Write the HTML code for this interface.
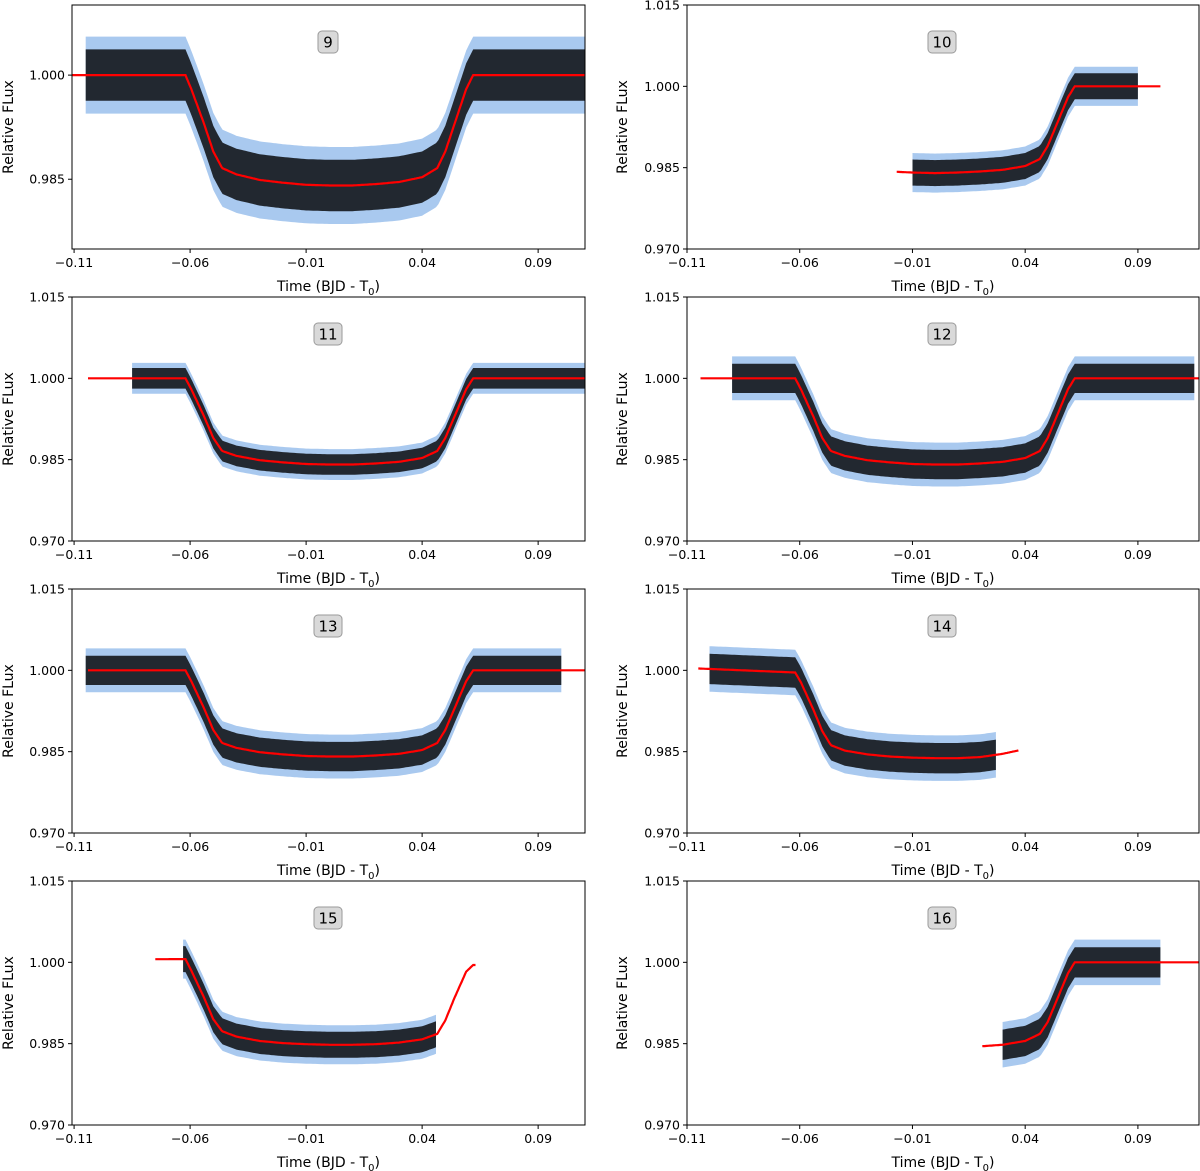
<!DOCTYPE html>
<html><head><meta charset="utf-8"><style>
body{margin:0;background:#fff}
svg{display:block}
text{font-family:"DejaVu Sans","Liberation Sans",sans-serif;fill:#000}
</style></head><body>
<svg id="fig" width="1200" height="1171" viewBox="0 0 1200 1171" xmlns="http://www.w3.org/2000/svg"></svg>
<script>
// ---- data ----
const panelLabels = ["9","10","11","12","13","14","15","16"];
const xTicks = [-0.11,-0.06,-0.01,0.04,0.09];
const xTickLabels = ["\u22120.11","\u22120.06","\u22120.01","0.04","0.09"];
const yTicks = [1.015,1.000,0.985,0.970];
const yTickLabels = ["1.015","1.000","0.985","0.970"];
const knotT = [-0.12,-0.062,-0.0595,-0.054,-0.050,-0.0462,-0.040,-0.030,-0.020,-0.010,0.000,0.010,0.020,0.030,0.040,0.0465,0.050,0.054,0.059,0.062,0.12];
const flux9  = [1,1,0.998,0.993,0.989,0.9866,0.9857,0.9849,0.9845,0.9842,0.9841,0.9841,0.9843,0.9846,0.9853,0.9866,0.989,0.993,0.998,1,1];
const flux10 = [0.9855,0.9852,0.985,0.9849,0.9848,0.9847,0.9846,0.9845,0.9843,0.9841,0.9840,0.9841,0.9843,0.9846,0.9853,0.9866,0.989,0.993,0.998,1,1];
const flux11 = [1,1,0.998,0.993,0.989,0.9866,0.9857,0.9849,0.9845,0.9842,0.9841,0.9841,0.9843,0.9846,0.9853,0.9866,0.989,0.993,0.998,1,1];
const flux12 = [1,1,0.998,0.993,0.989,0.9866,0.9857,0.9849,0.9845,0.9842,0.9841,0.9841,0.9843,0.9846,0.9853,0.9866,0.989,0.993,0.998,1,1];
const flux13 = [1,1,0.998,0.993,0.989,0.9866,0.9857,0.9849,0.9845,0.9842,0.9841,0.9841,0.9843,0.9846,0.9853,0.9866,0.989,0.993,0.998,1,1];
const flux14 = [1.0006,0.9996,0.9978,0.9928,0.9888,0.9862,0.9852,0.9845,0.9841,0.9839,0.9838,0.9838,0.9840,0.9846,0.9855,0.9866,0.989,0.993,0.998,1,1];
const flux15 = [1.0005,1.0006,0.9985,0.9935,0.9895,0.9873,0.9863,0.9855,0.9851,0.9849,0.9848,0.9848,0.9849,0.9852,0.9858,0.9868,0.9893,0.9935,0.9983,0.9995,0.9995];
const flux16 = [0.984,0.984,0.984,0.984,0.984,0.984,0.984,0.984,0.9845,0.9846,0.9846,0.9846,0.9845,0.9848,0.9855,0.9868,0.989,0.993,0.998,1,1];
const modelFlux = [flux9,flux10,flux11,flux12,flux13,flux14,flux15,flux16];
const modelStart = [-0.111,-0.017,-0.104,-0.104,-0.104,-0.105,-0.075,0.021];
const modelEnd   = [0.111,0.1,0.111,0.117,0.111,0.037,0.063,0.117];
const dataStart  = [-0.105,-0.010,-0.085,-0.090,-0.105,-0.100,-0.063,0.030];
const dataEnd    = [0.111,0.090,0.110,0.115,0.100,0.027,0.046,0.100];
const dataScatter = [0.0037,0.0024,0.0019,0.0027,0.0027,0.0028,0.0024,0.0028];

// ---- layout ----
const NS="http://www.w3.org/2000/svg";
const svg=document.getElementById('fig');
function mk(tag,attrs,parent){const e=document.createElementNS(NS,tag);for(const k in attrs)e.setAttribute(k,attrs[k]);(parent||svg).appendChild(e);return e;}
const cols=[{x0:72,x1:585,xmin:-0.1109,xmax:0.1102,lx:8,bx:328},{x0:687,x1:1199,xmin:-0.11,xmax:0.1171,lx:622,bx:942}];
const rows=[{y0:5,y1:249},{y0:297,y1:541},{y0:589,y1:833},{y0:881,y1:1125}];
function interp(t,fl){
  if(t<=knotT[0])return fl[0];
  for(let i=1;i<knotT.length;i++){if(t<=knotT[i]){const f=(t-knotT[i-1])/(knotT[i]-knotT[i-1]);return fl[i-1]+f*(fl[i]-fl[i-1]);}}
  return fl[fl.length-1];
}
for(let p=0;p<8;p++){
  const c=cols[p%2], r=rows[Math.floor(p/2)];
  let ymin=0.970,ymax=1.015;
  if(p===0){ymin=0.97495;ymax=1.0101;}
  const X=t=>c.x0+(t-c.xmin)/(c.xmax-c.xmin)*(c.x1-c.x0);
  const Y=v=>r.y1-(v-ymin)/(ymax-ymin)*(r.y1-r.y0);
  const g=mk('g',{});
  
  
  const cid='clip'+p;
  const cp=mk('clipPath',{id:cid},g);mk('rect',{x:c.x0,y:r.y0,width:c.x1-c.x0,height:r.y1-r.y0},cp);
  const plot=mk('g',{'clip-path':'url(#'+cid+')'},g);
  const sig=dataScatter[p];
  const bands=[[1.5,'#a9c9ef',1,'error-bars'],[1.0,'#000',0.8,'data-points']];
  for(const b of bands){
    let up=[],dn=[];
    for(let t=dataStart[p];t<=dataEnd[p]+1e-9;t+=0.001){
      const m=interp(t,modelFlux[p]);
      up.push(X(t).toFixed(1)+','+Y(m+b[0]*sig).toFixed(1));
      dn.unshift(X(t).toFixed(1)+','+Y(m-b[0]*sig).toFixed(1));
    }
    const poly=mk('polygon',{points:up.concat(dn).join(' '),fill:b[1],'fill-opacity':b[2]},plot);
    
    
  }
  let pts=[];
  for(let t=modelStart[p];t<=modelEnd[p]+1e-9;t+=0.0005){pts.push(X(t).toFixed(1)+','+Y(interp(t,modelFlux[p])).toFixed(1));}
  const ml=mk('polyline',{points:pts.join(' '),fill:'none',stroke:'#f00','stroke-width':2.2},plot);
  
  
  const fr=mk('rect',{x:c.x0,y:r.y0,width:c.x1-c.x0,height:r.y1-r.y0,fill:'none',stroke:'#000','stroke-width':1},g);
  
  
  xTicks.forEach((t,i)=>{
    const x=X(t);
    mk('line',{x1:x,x2:x,y1:r.y1,y2:r.y1+4,stroke:'#000'},g);
    const tx=mk('text',{x:x,y:r.y1+18,'text-anchor':'middle','font-size':12.5},g);
    tx.textContent=xTickLabels[i];
    
    
  });
  yTicks.forEach((v,i)=>{
    if(v<ymin-1e-6||v>ymax+1e-6)return;
    const y=Y(v);
    mk('line',{x1:c.x0-4,x2:c.x0,y1:y,y2:y,stroke:'#000'},g);
    const ty=mk('text',{x:c.x0-7,y:y+4.5,'text-anchor':'end','font-size':12.5},g);
    ty.textContent=yTickLabels[i];
    
    
  });
  const xt=mk('text',{x:(c.x0+c.x1)/2,y:r.y1+42,'text-anchor':'middle','font-size':14},g);
  xt.innerHTML='Time (BJD - T<tspan font-size="10" dy="4">0</tspan><tspan dy="-4">)</tspan>';
  
  
  const ym=(r.y0+r.y1)/2;
  const yt=mk('text',{x:c.lx+5,y:ym,'text-anchor':'middle','font-size':14,transform:'rotate(-90 '+(c.lx+5)+' '+ym+')'},g);
  yt.textContent='Relative FLux';
  
  
  const by=r.y0+37;
  const bw=panelLabels[p].length>1?28:20;
  const bx=mk('rect',{x:c.bx-bw/2,y:by-11,width:bw,height:22,rx:4,fill:'#d9d9d9',stroke:'#9a9a9a'},g);
  
  
  const bt=mk('text',{x:c.bx,y:by+5.5,'text-anchor':'middle','font-size':15},g);
  bt.textContent=panelLabels[p];
  
  
}
</script>
</body></html>
